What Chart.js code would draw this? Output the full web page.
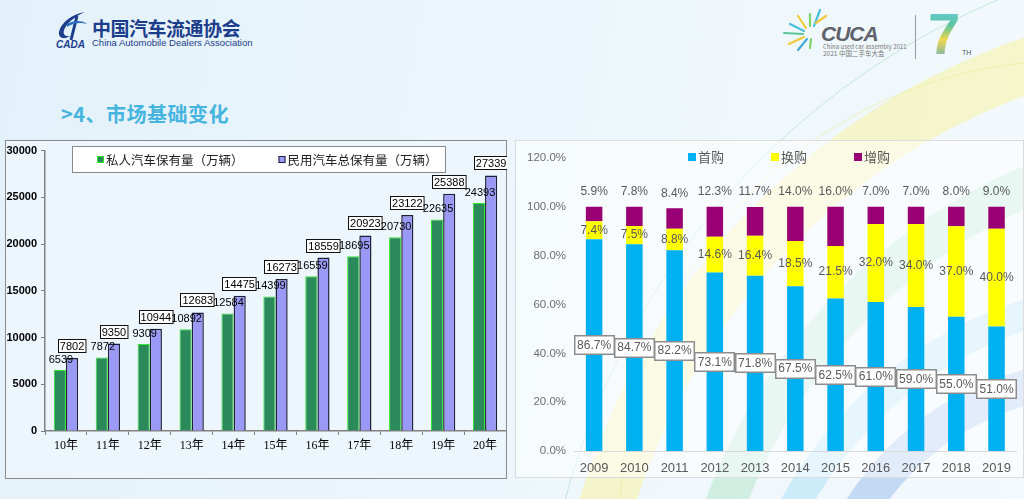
<!DOCTYPE html>
<html>
<head>
<meta charset="utf-8">
<script src="https://cdn.jsdelivr.net/npm/chart.js@4.4.0/dist/chart.umd.min.js"></script>
<style>
  html, body { margin: 0; padding: 0; }
  body {
    width: 1024px; height: 499px; overflow: hidden; position: relative;
    background: linear-gradient(100deg, #e3f1fa 0%, #ecf6fc 45%, #f3f9fd 100%);
    font-family: "Noto Sans CJK SC", "Noto Sans", sans-serif;
  }
  .arc { position: absolute; border-radius: 50%; border-style: solid; box-sizing: border-box; }
  .panel { position: absolute; box-sizing: border-box; }
  canvas { position: absolute; }
  .title { position: absolute; left: 61px; top: 99px; font-size: 20px; font-weight: bold; color: #45b4df; letter-spacing: 0.5px; }
  .cada-cn { position: absolute; left: 92px; top: 14px; font-size: 19px; font-weight: bold; color: #1c3c8c; font-family: "Noto Sans CJK SC", serif; letter-spacing: -0.5px; }
  .cada-en { position: absolute; left: 92px; top: 37px; font-size: 9.5px; color: #1c3c8c; font-family: "Liberation Sans", Arial, sans-serif; }
  .cada-mark { position: absolute; left: 56px; top: 39px; font-size: 10px; font-weight: bold; font-style: italic; color: #1c3c8c; font-family: "Liberation Sans", Arial, sans-serif; }
  .cuca { position: absolute; left: 821px; top: 22px; font-size: 21px; font-style: italic; font-weight: bold; color: #5d626b; font-family: "Liberation Sans", Arial, sans-serif; letter-spacing: -1px; }
  .cuca-sub { position: absolute; left: 823px; font-size: 6px; color: #777; line-height: 7px; white-space: nowrap; }
  .seven { position: absolute; left: 928px; top: 5px; font-size: 58px; font-weight: 900; font-family: "Liberation Sans", Arial, sans-serif;
    background: linear-gradient(180deg, #6ccbe8 0%, #5bc4a0 35%, #f2d64a 60%, #4aa8d8 100%);
    -webkit-background-clip: text; background-clip: text; color: transparent; line-height: 58px; }
  .th { position: absolute; left: 962px; top: 49px; font-size: 7px; color: #555; font-family: "Liberation Sans", Arial, sans-serif; }
</style>
</head>
<body>
<!-- background arcs -->
<div class="arc" style="left:540px;top:-60px;width:1500px;height:1500px;border-width:1.5px;border-color:rgba(140,210,170,0.45);"></div>
<div class="arc" style="left:550px;top:0px;width:1400px;height:1400px;border-width:55px;border-color:rgba(248,244,170,0.6);"></div>
<div class="arc" style="left:670px;top:120px;width:1160px;height:1160px;border-width:40px;border-color:rgba(175,230,200,0.5);"></div>
<div class="arc" style="left:730px;top:280px;width:840px;height:840px;border-width:30px;border-color:rgba(175,225,245,0.55);"></div>
<div class="arc" style="left:800px;top:360px;width:600px;height:600px;border-width:35px;border-color:rgba(150,185,235,0.5);"></div>
<div class="arc" style="left:620px;top:60px;width:900px;height:900px;border-width:1.5px;border-color:rgba(235,235,150,0.6);"></div>

<!-- header -->
<svg style="position:absolute;left:55px;top:10px" width="36" height="32" viewBox="0 0 36 32">
  <path d="M30 2 C18 4 6 12 4 22 C3 28 9 30 15 26 C9 27 7 23 10 18 C13 12 21 6 30 2 Z" fill="#1c3c8c"/>
  <path d="M22 6 L16 30" stroke="#1c3c8c" stroke-width="3"/>
  <path d="M12 14 C18 10 28 10 32 14 C26 12 18 13 12 17 Z" fill="#2a6fc0"/>
</svg>
<div class="cada-mark">CADA</div>
<div class="cada-cn">中国汽车流通协会</div>
<div class="cada-en">China Automobile Dealers Association</div>

<svg style="position:absolute;left:780px;top:6px" width="50" height="46" viewBox="0 0 50 46">
  <g stroke-width="2.2" stroke-linecap="round">
    <line x1="34" y1="20" x2="40" y2="4" stroke="#4bbfe0"/>
    <line x1="30" y1="20" x2="30" y2="8" stroke="#7bd36a"/>
    <line x1="26" y1="22" x2="18" y2="10" stroke="#f0c93c"/>
    <line x1="24" y1="25" x2="10" y2="18" stroke="#4bbfe0"/>
    <line x1="23" y1="28" x2="4" y2="27" stroke="#5cc79a"/>
    <line x1="24" y1="31" x2="9" y2="38" stroke="#f0c93c"/>
    <line x1="27" y1="33" x2="18" y2="44" stroke="#4aa8d8"/>
    <line x1="31" y1="33" x2="30" y2="42" stroke="#7bd36a"/>
    <line x1="36" y1="17" x2="46" y2="10" stroke="#f0c93c"/>
  </g>
</svg>
<div class="cuca">CUCA</div>
<div class="cuca-sub" style="top:43px">China used car assembly 2021</div>
<div class="cuca-sub" style="top:50px;font-size:6.5px">2021 中国二手车大会</div>
<div style="position:absolute;left:915px;top:15px;width:1px;height:44px;background:#999"></div>
<div class="seven">7</div>
<div class="th">TH</div>

<div class="title">&gt;4、市场基础变化</div>

<!-- panels -->
<div class="panel" style="left:5px;top:140px;width:502px;height:339px;background:#edf6fc;border:1.5px solid #8a8a8a;"></div>
<div class="panel" style="left:515px;top:140px;width:509px;height:338px;background:rgba(255,255,255,0.5);border:1.5px solid #dcdcdc;"></div>

<canvas id="leftChart" style="left:5px;top:140px;width:502px;height:340px" width="502" height="340"></canvas>
<canvas id="rightChart" style="left:515px;top:140px;width:506px;height:340px" width="506" height="340"></canvas>

<script>
// ---- left chart data: car ownership (10k vehicles) ----
const years = ["10年", "11年", "12年", "13年", "14年", "15年", "16年", "17年", "18年", "19年", "20年"];
const privateCars = [6539, 7872, 9309, 10892, 12584, 14399, 16559, 18695, 20730, 22635, 24393];
const totalCars = [7802, 9350, 10944, 12683, 14475, 16273, 18559, 20923, 23122, 25388, 27339];
const privateLabel = "私人汽车保有量（万辆）";
const totalLabel = "民用汽车总保有量（万辆）";

// ---- right chart data: purchase type share (%) ----
const purchaseYears = ["2009", "2010", "2011", "2012", "2013", "2014", "2015", "2016", "2017", "2018", "2019"];
const firstBuy = [86.7, 84.7, 82.2, 73.1, 71.8, 67.5, 62.5, 61.0, 59.0, 55.0, 51.0];
const replaceBuy = [7.4, 7.5, 8.8, 14.6, 16.4, 18.5, 21.5, 32.0, 34.0, 37.0, 40.0];
const addBuy = [5.9, 7.8, 8.4, 12.3, 11.7, 14.0, 16.0, 7.0, 7.0, 8.0, 9.0];
const purchaseLabels = ["首购", "换购", "增购"];

Chart.defaults.font.family = 'Arial, "Liberation Sans", "Noto Sans CJK SC", sans-serif';
Chart.defaults.animation = false;

// value labels + boxed legend for the ownership chart
const ownershipLabels = {
  id: "ownershipLabels",
  afterDatasetsDraw(chart) {
    const ctx = chart.ctx;
    ctx.save();
    ctx.font = '11px Arial, "Liberation Sans", sans-serif';
    ctx.textAlign = "center";
    const m0 = chart.getDatasetMeta(0);
    const m1 = chart.getDatasetMeta(1);
    // boxed labels on total bars
    m1.data.forEach((bar, i) => {
      const t = String(totalCars[i]);
      const w = ctx.measureText(t).width + 4;
      const h = 14;
      const bx = Math.round(bar.x - w / 2), by = Math.round(bar.y - 5 - h);
      ctx.fillStyle = "#fff";
      ctx.fillRect(bx, by, w, h);
      ctx.strokeStyle = "#111";
      ctx.lineWidth = 1;
      ctx.strokeRect(bx + 0.5, by + 0.5, w - 1, h - 1);
      ctx.fillStyle = "#000";
      ctx.textBaseline = "middle";
      ctx.fillText(t, bar.x, by + h / 2 + 0.5);
    });
    // plain labels on private bars
    m0.data.forEach((bar, i) => {
      ctx.fillStyle = "#000";
      ctx.textBaseline = "middle";
      ctx.fillText(String(privateCars[i]), bar.x + 1, bar.y - 10);
    });
    ctx.restore();
  },
  afterDraw(chart) {
    const ctx = chart.ctx;
    ctx.save();
    // legend box
    ctx.fillStyle = "#fff";
    ctx.fillRect(67, 6, 374, 27);
    ctx.strokeStyle = "#8a8a8a";
    ctx.lineWidth = 1;
    ctx.strokeRect(67.5, 6.5, 373, 26);
    ctx.font = '12.5px "Noto Sans CJK SC", sans-serif';
    ctx.textBaseline = "middle";
    ctx.textAlign = "left";
    const ds = chart.data.datasets;
    let x = 92;
    ds.forEach((d) => {
      ctx.fillStyle = d.backgroundColor;
      ctx.fillRect(x, 16, 7, 7);
      ctx.strokeStyle = d.borderColor;
      ctx.lineWidth = 1;
      ctx.strokeRect(x + 0.5, 16.5, 6, 6);
      ctx.fillStyle = "#222";
      ctx.fillText(d.label, x + 9, 20);
      x += 9 + ctx.measureText(d.label).width + 35;
    });
    ctx.restore();
  }
};

new Chart(document.getElementById("leftChart"), {
  type: "bar",
  data: {
    labels: years,
    datasets: [
      { label: privateLabel, data: privateCars, backgroundColor: "#2a8a5a", borderColor: "#2ee82e", borderWidth: 1 },
      { label: totalLabel, data: totalCars, backgroundColor: "#9a9af6", borderColor: "#1f1f3c", borderWidth: 1.5 }
    ]
  },
  options: {
    responsive: false,
    layout: { padding: { top: 7, right: 1, left: 0, bottom: 0 } },
    plugins: { legend: { display: false }, tooltip: { enabled: false } },
    datasets: { bar: { categoryPercentage: 0.58, barPercentage: 1.0 } },
    scales: {
      x: {
        grid: { drawOnChartArea: false, drawTicks: true, tickLength: 4, color: "#808080", offset: true },
        border: { color: "#808080", width: 1.5 },
        ticks: { color: "#000", padding: 4, font: { size: 12, family: '"Liberation Serif", "Noto Sans CJK SC", serif' } },
        afterFit: (s) => { s.height = 49; }
      },
      y: {
        min: 0, max: 30000,
        grid: { drawOnChartArea: false, drawTicks: true, tickLength: 4, color: "#808080" },
        border: { color: "#808080", width: 1.5 },
        ticks: { stepSize: 5000, color: "#000", padding: 4, font: { size: 11, weight: "bold" }, callback: (v) => String(v) },
        afterFit: (s) => { s.width = 40; }
      }
    }
  },
  plugins: [ownershipLabels]
});

// value labels + legend for the purchase share chart
const shareLabels = {
  id: "shareLabels",
  afterDatasetsDraw(chart) {
    const ctx = chart.ctx;
    ctx.save();
    ctx.font = '12px Arial, "Liberation Sans", sans-serif';
    ctx.textAlign = "center";
    ctx.textBaseline = "middle";
    const mb = chart.getDatasetMeta(0), my = chart.getDatasetMeta(1), mp = chart.getDatasetMeta(2);
    mb.data.forEach((bar, i) => {
      const t = firstBuy[i].toFixed(1) + "%";
      const w = ctx.measureText(t).width + 7;
      const h = 20;
      const cy = (bar.y + bar.base) / 2;
      const bx = Math.round(bar.x - w / 2), by = Math.round(cy - h / 2);
      ctx.fillStyle = "#fff";
      ctx.fillRect(bx, by, w, h);
      ctx.strokeStyle = "#8c8c8c";
      ctx.lineWidth = 1.5;
      ctx.strokeRect(bx + 0.75, by + 0.75, w - 1.5, h - 1.5);
      ctx.fillStyle = "#595959";
      ctx.fillText(t, bar.x, cy + 0.5);
    });
    my.data.forEach((bar, i) => {
      ctx.fillStyle = "#595959";
      ctx.fillText(replaceBuy[i].toFixed(1) + "%", bar.x, (bar.y + bar.base) / 2);
    });
    mp.data.forEach((bar, i) => {
      ctx.fillStyle = "#595959";
      ctx.fillText(addBuy[i].toFixed(1) + "%", bar.x, bar.y - 15);
    });
    ctx.restore();
  },
  afterDraw(chart) {
    const ctx = chart.ctx;
    ctx.save();
    ctx.font = '13px "Noto Sans CJK SC", sans-serif';
    ctx.textBaseline = "middle";
    ctx.textAlign = "left";
    let x = 173;
    chart.data.datasets.forEach((d) => {
      ctx.fillStyle = d.backgroundColor;
      ctx.fillRect(x, 13, 8, 8);
      ctx.fillStyle = "#595959";
      ctx.fillText(d.label, x + 10, 17);
      x += 10 + ctx.measureText(d.label).width + 47;
    });
    ctx.restore();
  }
};

new Chart(document.getElementById("rightChart"), {
  type: "bar",
  data: {
    labels: purchaseYears,
    datasets: [
      { label: purchaseLabels[0], data: firstBuy, backgroundColor: "#00b0f0" },
      { label: purchaseLabels[1], data: replaceBuy, backgroundColor: "#ffff00" },
      { label: purchaseLabels[2], data: addBuy, backgroundColor: "#990073" }
    ]
  },
  options: {
    responsive: false,
    layout: { padding: { top: 18, right: 0, left: 0, bottom: 0 } },
    plugins: { legend: { display: false }, tooltip: { enabled: false } },
    datasets: { bar: { categoryPercentage: 0.41, barPercentage: 1.0 } },
    scales: {
      x: {
        stacked: true,
        grid: { display: false, drawTicks: false },
        border: { color: "#d9d9d9", width: 1 },
        ticks: { color: "#595959", padding: 10, font: { size: 13 } },
        afterFit: (s) => { s.height = 29; }
      },
      y: {
        stacked: true,
        min: 0, max: 120,
        grid: { display: false, drawTicks: false },
        border: { display: false },
        ticks: { stepSize: 20, color: "#6e6e6e", padding: 8, font: { size: 11.5 }, callback: (v) => v.toFixed(1) + "%" },
        afterFit: (s) => { s.width = 59; }
      }
    }
  },
  plugins: [shareLabels]
});
</script>
</body>
</html>
